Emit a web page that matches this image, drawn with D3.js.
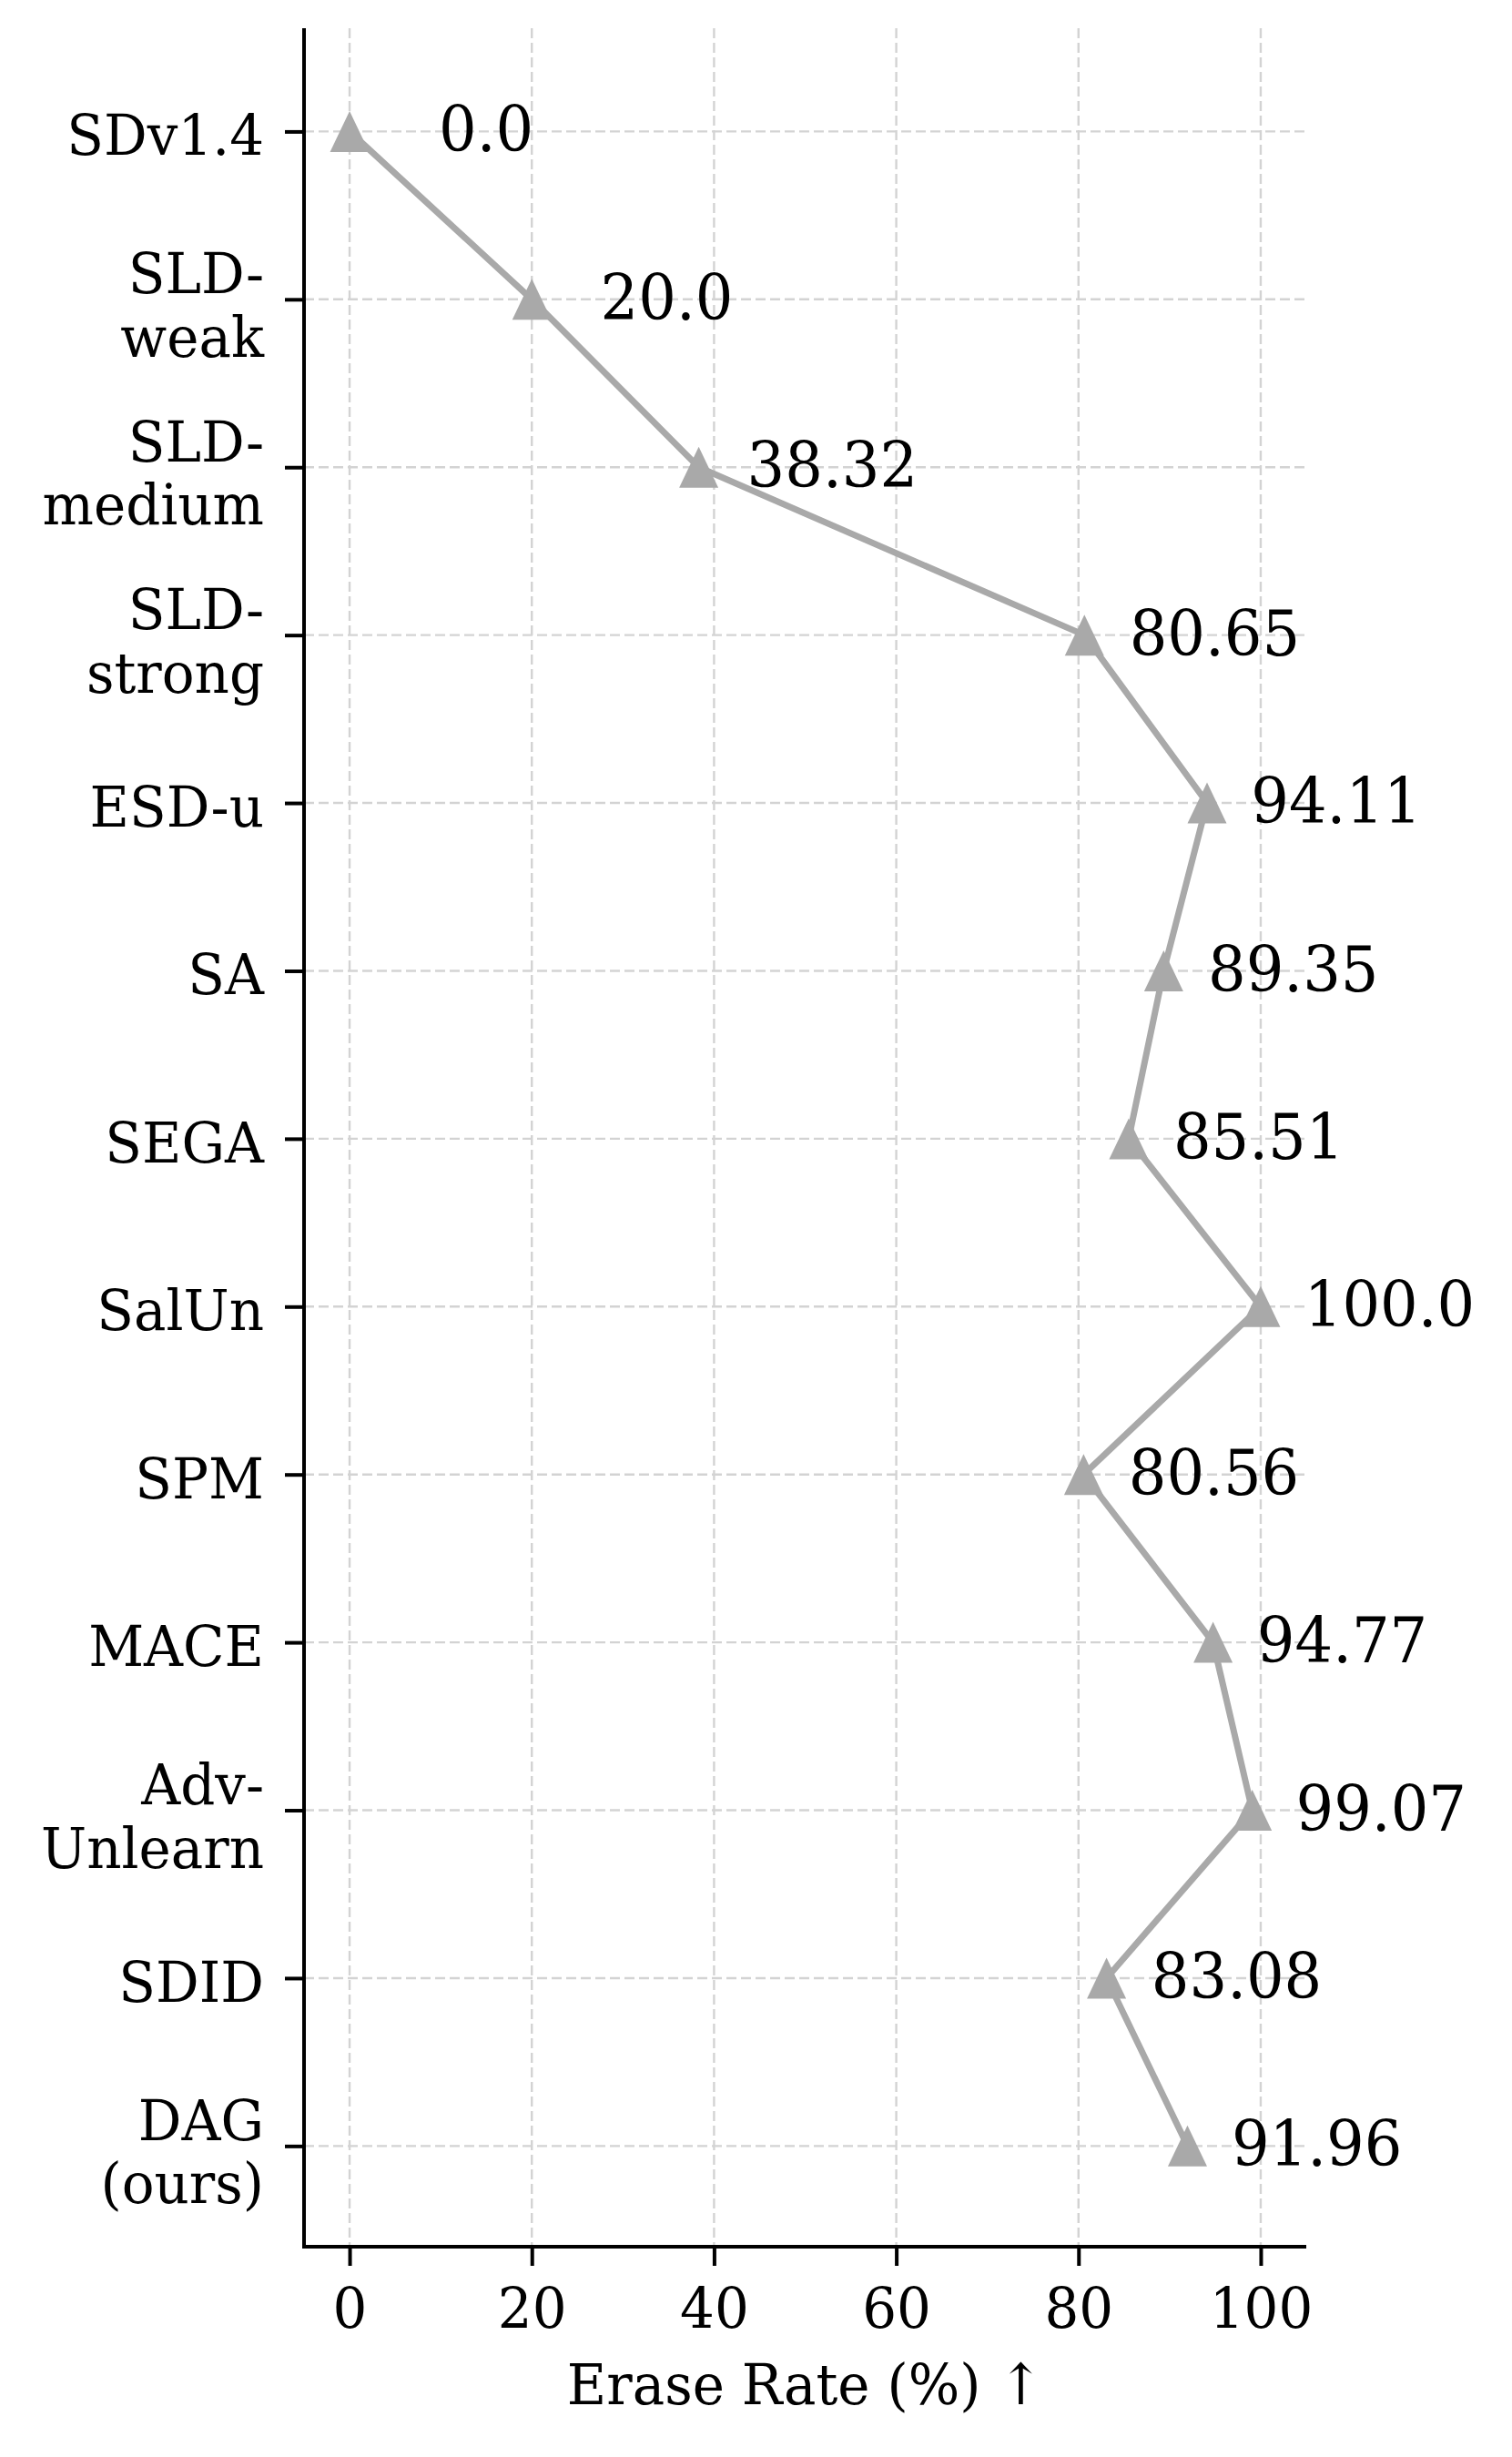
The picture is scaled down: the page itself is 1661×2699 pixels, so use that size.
<!DOCTYPE html>
<html>
<head>
<meta charset="utf-8">
<script src="https://cdn.jsdelivr.net/npm/d3@7"></script>
<style>
  html, body { margin: 0; padding: 0; background: #ffffff; }
  svg { display: block; }
  text { font-family: "DejaVu Serif", serif; fill: #000; }
</style>
</head>
<body>
<div id="chart"></div>
<script>
// ---- data ----
const methods = ["SDv1.4", "SLD-\nweak", "SLD-\nmedium", "SLD-\nstrong", "ESD-u", "SA", "SEGA",
                 "SalUn", "SPM", "MACE", "Adv-\nUnlearn", "SDID", "DAG\n(ours)"];
const eraseRate = [0.0, 20.0, 38.32, 80.65, 94.11, 89.35, 85.51, 100.0, 80.56, 94.77, 99.07, 83.08, 91.96];
const valueLabels = ["0.0", "20.0", "38.32", "80.65", "94.11", "89.35", "85.51", "100.0", "80.56", "94.77", "99.07", "83.08", "91.96"];
const xTicks = [0, 20, 40, 60, 80, 100];
const xTitle = "Erase Rate (%) \u2191";

(function () {
// ---- layout ----
const W = 1661, H = 2699;
const pL = 334, pR = 1435, pT = 31, pB = 2468;
const SY = 1.05; // slight vertical stretch of the original picture
const lineColor = "#a9a9a9";

const svg = d3.select("#chart").append("svg").attr("width", W).attr("height", H);
svg.append("rect").attr("width", W).attr("height", H).attr("fill", "#fff");

const x = d3.scaleLinear().domain([-5, 105]).range([pL, pR]);
const y = d3.scaleLinear().domain([-0.615, 12.6]).range([pT, pB]);
const idx = d3.range(methods.length);

// grid
const grid = svg.append("g");
grid.selectAll("line.vx").data(xTicks).join("line")
  .attr("x1", d => x(d)).attr("x2", d => x(d))
  .attr("y1", pT).attr("y2", pB)
  .attr("stroke", "#d3d3d3").attr("stroke-width", 2.4).attr("stroke-dasharray", "11,5");
grid.selectAll("line.hy").data(idx).join("line")
  .attr("x1", pL).attr("x2", pR)
  .attr("y1", d => y(d)).attr("y2", d => y(d))
  .attr("stroke", "#d3d3d3").attr("stroke-width", 2.4).attr("stroke-dasharray", "11,5");

// line
const line = d3.line().x(d => x(d[1])).y(d => y(d[0]));
svg.append("path")
  .datum(idx.map(i => [i, eraseRate[i]]))
  .attr("d", line)
  .attr("fill", "none").attr("stroke", lineColor).attr("stroke-width", 7)
  .attr("stroke-linejoin", "round");

// markers (triangle up)
const tri = "M0,-22.5 L-21.5,22.5 L21.5,22.5 Z";
svg.selectAll("path.mk").data(idx).join("path")
  .attr("d", tri)
  .attr("transform", i => `translate(${x(eraseRate[i])},${y(i)})`)
  .attr("fill", lineColor);

// value labels (centred to the right of each point)
svg.selectAll("text.val").data(idx).join("text")
  .attr("transform", i => `translate(${x(eraseRate[i]) + 150 - 0.085 * eraseRate[i]},${y(i)}) scale(1,${SY})`)
  .attr("y", 21)
  .attr("text-anchor", "middle")
  .attr("font-size", 65.5)
  .text(i => valueLabels[i]);

// x axis
const xAxis = d3.axisBottom(x).tickValues(xTicks).tickSize(21).tickSizeOuter(0).tickFormat(d3.format("d"));
const gx = svg.append("g").attr("transform", `translate(0,${pB})`).call(xAxis);
gx.select(".domain").attr("stroke", "#000").attr("stroke-width", 4)
  .attr("d", `M${pL},0H${pR}`);
gx.selectAll(".tick line").attr("stroke", "#000").attr("stroke-width", 4);
gx.selectAll(".tick text")
  .attr("dy", null)
  .attr("transform", `scale(1,${SY})`)
  .attr("y", 84.8)
  .attr("font-size", 59.5).attr("font-family", "DejaVu Serif").attr("fill", "#000");

// y axis
const yAxis = d3.axisLeft(y).tickValues(idx).tickSize(21).tickSizeOuter(0).tickFormat(i => methods[i]);
const gy = svg.append("g").attr("transform", `translate(${pL},0)`).call(yAxis);
gy.select(".domain").attr("stroke", "#000").attr("stroke-width", 4)
  .attr("d", `M0,${pT}V${pB + 2}`);
gy.selectAll(".tick line").attr("stroke", "#000").attr("stroke-width", 4);
gy.selectAll(".tick text").each(function(i) {
  const t = d3.select(this);
  const parts = methods[i].split("\n");
  t.text(null)
    .attr("x", null).attr("dy", null)
    .attr("transform", `translate(-44,0) scale(1,${SY})`)
    .attr("text-anchor", "end")
    .attr("font-size", 59.5).attr("font-family", "DejaVu Serif").attr("fill", "#000");
  const ys = parts.length === 1 ? [24.1] : [-6.7, 59.6];
  parts.forEach((p, k) => {
    t.append("tspan").attr("x", 0).attr("y", ys[k]).text(p);
  });
});

// x title
svg.append("text")
  .attr("transform", `translate(${(pL + pR) / 2},2641) scale(1,${SY})`)
  .attr("text-anchor", "middle")
  .attr("font-size", 59.5)
  .text(xTitle);
})();
</script>
</body>
</html>
